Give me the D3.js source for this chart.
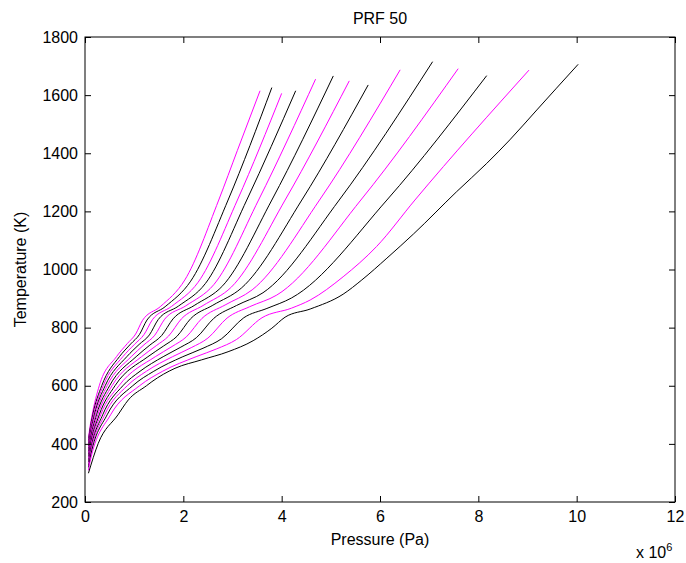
<!DOCTYPE html>
<html lang="en">
<head>
<meta charset="UTF-8">
<title>PRF 50</title>
<script src="https://d3js.org/d3.v7.min.js"></script>
<style>
    body{
        margin: 0;
        background: #fff;
    }
    text{
        font-family: "Liberation Sans", Arial, sans-serif;
        font-size: 16px;
        fill: #000;
    }
</style>
</head>
<body>
<svg id="chart" width="686" height="563"></svg>

<script>
    // pressure is in units of 1e6 Pa, temperature in K
    // one run per initial temperature
    const run1 = [[0.07,420],[0.10,457],[0.145,500],[0.29,600],[0.64,700],[0.86,745],[1.03,778],[1.17,825],[1.53,872],[2.03,964],[2.72,1239],[3.10,1410],[3.56,1615]];
    const run2 = [[0.07,411],[0.10,448],[0.158,500],[0.34,600],[0.70,700],[0.93,744],[1.11,777],[1.26,826],[1.63,872],[2.15,960],[2.91,1239],[3.80,1626]];
    const run3 = [[0.07,402],[0.10,438],[0.173,500],[0.37,600],[0.77,700],[1.01,743],[1.20,776],[1.37,827],[1.76,873],[2.30,956],[3.10,1239],[4.00,1606]];
    const run4 = [[0.07,393],[0.10,428],[0.19,500],[0.41,600],[0.85,700],[1.10,742],[1.31,775],[1.49,828],[1.90,874],[2.45,952],[3.29,1239],[4.285,1615]];
    const run5 = [[0.07,384],[0.10,418],[0.21,500],[0.45,600],[0.94,700],[1.20,741],[1.42,774],[1.62,829],[2.05,875],[2.62,948],[3.53,1239],[4.69,1655]];
    const run6 = [[0.07,374],[0.10,407],[0.234,500],[0.50,600],[1.04,700],[1.32,740],[1.56,773],[1.79,830],[2.22,876],[2.80,944],[3.80,1239],[5.05,1666]];
    const run7 = [[0.07,365],[0.10,397],[0.26,500],[0.55,600],[1.15,700],[1.45,738],[1.70,771],[1.96,830],[2.40,876],[2.98,940],[4.07,1239],[5.375,1649]];
    const run8 = [[0.07,356],[0.10,388],[0.29,500],[0.61,600],[1.28,700],[1.60,737],[1.87,770],[2.15,831],[2.60,877],[3.18,936],[4.41,1239],[5.76,1635]];
    const run9 = [[0.07,346],[0.10,377],[0.32,500],[0.69,600],[1.43,700],[1.77,735],[2.06,768],[2.38,832],[2.85,878],[3.40,930],[4.77,1239],[6.41,1687]];
    const run10 = [[0.07,337],[0.10,367],[0.36,500],[0.77,600],[1.12,650],[1.59,700],[1.95,733],[2.27,766],[2.62,832],[3.08,876],[3.62,920],[5.17,1239],[7.07,1715]];
    const run11 = [[0.07,328],[0.10,357],[0.40,500],[0.86,600],[1.25,650],[1.78,700],[2.16,731],[2.50,764],[2.89,833],[3.35,872],[3.90,912],[5.61,1239],[7.59,1691]];
    const run12 = [[0.07,319],[0.10,347],[0.45,500],[0.97,600],[1.40,650],[1.99,700],[2.40,729],[2.78,762],[3.23,834],[3.70,866],[4.20,902],[6.14,1239],[8.17,1667]];
    const run13 = [[0.07,309],[0.10,337],[0.52,500],[1.11,600],[1.58,650],[2.26,700],[2.68,727],[3.08,759],[3.60,834],[4.20,867],[4.58,895],[5.25,975],[5.93,1079],[6.71,1239],[9.03,1686]];
    const run14 = [[0.07,299],[0.27,402],[0.67,500],[0.88,551],[1.25,600],[1.36,614],[1.83,660],[2.37,689],[2.91,717],[3.42,755],[3.80,798],[4.07,836],[4.58,864],[5.25,915],[5.63,964],[6.14,1039],[6.68,1122],[7.56,1268],[8.17,1365],[8.64,1446],[9.19,1549],[9.59,1624],[10.03,1706]];

    const runs = [run1, run2, run3, run4, run5, run6, run7, run8, run9, run10, run11, run12, run13, run14];

    const xTicks = [0, 2, 4, 6, 8, 10, 12];
    const yTicks = [200, 400, 600, 800, 1000, 1200, 1400, 1600, 1800];

    const titleText = "PRF 50";
    const xLabel = "Pressure (Pa)";
    const yLabel = "Temperature (K)";

    // matlab cycles magenta / black here
    const colors = ["#ff00ff", "#000000"];

    const box = {left: 85, right: 675, top: 37, bottom: 502};
    const tick = 6;

    let svg = d3.select("#chart");

    let x = d3.scaleLinear().domain([0, 12]).range([box.left, box.right]);
    let y = d3.scaleLinear().domain([200, 1800]).range([box.bottom, box.top]);

    // curves
    const line = d3.line()
        .x(d => x(d[0]))
        .y(d => y(d[1]))
        .curve(d3.curveMonotoneX);

    svg.append("g")
        .selectAll("path")
        .data(runs)
        .enter()
        .append("path")
        .attr("d", d => line(d))
        .attr("fill", "none")
        .attr("stroke", (d, i) => colors[i % 2])
        .attr("stroke-width", 1)
        .attr("stroke-linejoin", "round");

    // axes, ticks pointing inwards like matlab
    const fmt = d3.format("d");
    let gx = svg.append("g")
        .attr("transform", `translate(0,${box.bottom})`)
        .call(d3.axisBottom(x).tickValues(xTicks).tickFormat(fmt).tickSizeInner(-tick).tickSizeOuter(0).tickPadding(9));
    let gy = svg.append("g")
        .attr("transform", `translate(${box.left},0)`)
        .call(d3.axisLeft(y).tickValues(yTicks).tickFormat(fmt).tickSizeInner(-tick).tickSizeOuter(0).tickPadding(7));
    let gt = svg.append("g")
        .attr("transform", `translate(0,${box.top})`)
        .call(d3.axisTop(x).tickValues(xTicks).tickSizeInner(-tick).tickSizeOuter(0).tickFormat(""));
    let gr = svg.append("g")
        .attr("transform", `translate(${box.right},0)`)
        .call(d3.axisRight(y).tickValues(yTicks).tickSizeInner(-tick).tickSizeOuter(0).tickFormat(""));

    [gx, gy, gt, gr].forEach(g => {
        g.select(".domain").remove();
        g.selectAll("line").attr("stroke", "#000");
        g.selectAll("text")
            .style("font-family", '"Liberation Sans", Arial, sans-serif')
            .style("font-size", "16px")
            .attr("fill", "#000");
    });

    svg.append("rect")
        .attr("x", box.left)
        .attr("y", box.top)
        .attr("width", box.right - box.left)
        .attr("height", box.bottom - box.top)
        .attr("fill", "none")
        .attr("stroke", "#000")
        .attr("stroke-width", 1);

    // labels
    svg.append("text")
        .attr("x", (box.left + box.right) / 2)
        .attr("y", 24)
        .attr("text-anchor", "middle")
        .text(titleText);

    svg.append("text")
        .attr("x", (box.left + box.right) / 2)
        .attr("y", 545)
        .attr("text-anchor", "middle")
        .text(xLabel);

    svg.append("text")
        .attr("transform", `translate(26,${(box.top + box.bottom) / 2}) rotate(-90)`)
        .attr("text-anchor", "middle")
        .text(yLabel);

    let expo = svg.append("text")
        .attr("x", 636)
        .attr("y", 558);
    expo.append("tspan").text("x 10");
    expo.append("tspan")
        .attr("dy", -7)
        .style("font-size", "11px")
        .text("6");
</script>
</body>
</html>
